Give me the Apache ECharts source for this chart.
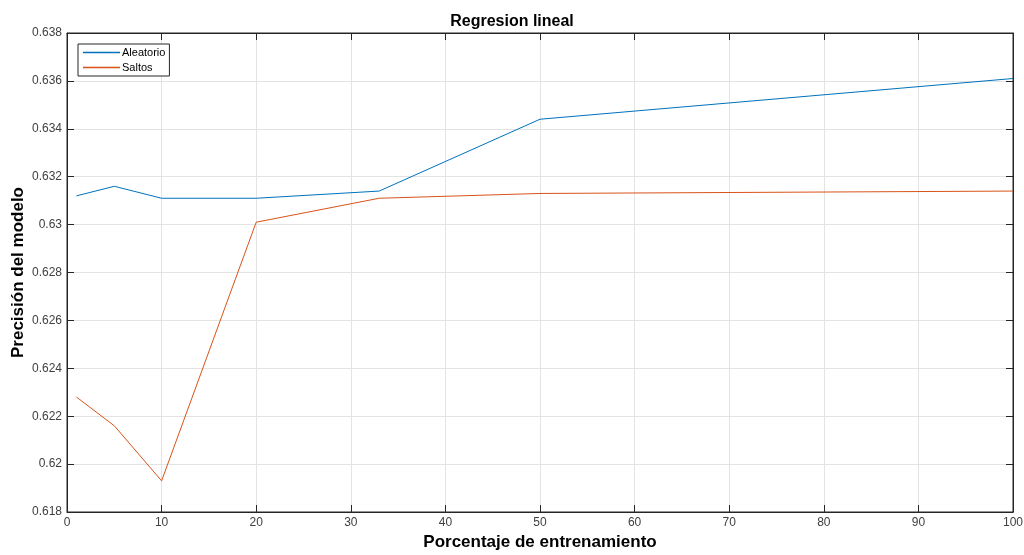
<!DOCTYPE html>
<html><head><meta charset="utf-8">
<script src="https://cdn.jsdelivr.net/npm/echarts@6/dist/echarts.min.js"></script>
<style>html,body{margin:0;padding:0;background:#fff}#c{width:1024px;height:555px}</style>
</head><body><div id="c"></div>
<script>
const xValues = [1, 5, 10, 20, 33, 50, 100];
const aleatorio = [0.6312, 0.6316, 0.6311, 0.6311, 0.6314, 0.6344, 0.6361];
const saltos = [0.6228, 0.6216, 0.6193, 0.6301, 0.6311, 0.6313, 0.6314];
const seriesNames = ['Aleatorio', 'Saltos'];

const font = 'Liberation Sans, Arial, sans-serif';
const axisCol = '#262626';
const chart = echarts.init(document.getElementById('c'));
const pair = (xs, ys) => xs.map((x, i) => [x, ys[i]]);
const commonX = {type: 'value', min: 0, max: 100, interval: 10};
const commonY = {type: 'value', min: 0.618, max: 0.638, interval: 0.002};
chart.setOption({
  animation: false,
  backgroundColor: '#fff',
  title: {text: 'Regresion lineal', left: 'center', top: 9,
    textStyle: {fontFamily: font, fontSize: 16, fontWeight: 'bold', color: '#000'}},
  grid: {left: 67, right: 11, top: 33, bottom: 43, outerBoundsMode: 'none', containLabel: false,
    show: true, borderColor: axisCol, borderWidth: 1, backgroundColor: '#fff'},
  legend: {orient: 'vertical', left: 78, top: 44, data: seriesNames,
    icon: 'rect', itemWidth: 37, itemHeight: 1.5, itemGap: 4,
    padding: [3, 4, 3, 5], borderColor: axisCol, borderWidth: 1, backgroundColor: '#fff',
    textStyle: {fontFamily: font, fontSize: 11, color: '#000', padding: [0, 0, 0, -3]}},
  xAxis: [
    Object.assign({}, commonX, {
      name: 'Porcentaje de entrenamiento', nameLocation: 'middle', nameGap: 22,
      nameTextStyle: {fontFamily: font, fontSize: 17, fontWeight: 'bold', color: '#000'},
      axisLine: {show: true, onZero: false, lineStyle: {color: axisCol}},
      axisTick: {show: true, inside: true, length: 7, lineStyle: {color: axisCol}},
      axisLabel: {fontFamily: font, fontSize: 12, color: '#404040', margin: 5},
      splitLine: {show: true, lineStyle: {color: '#e3e3e3'}}
    }),
    Object.assign({}, commonX, {
      position: 'top',
      axisLine: {show: true, onZero: false, lineStyle: {color: axisCol}},
      axisTick: {show: true, inside: true, length: 7, lineStyle: {color: axisCol}},
      axisLabel: {show: false}, splitLine: {show: false}
    })
  ],
  yAxis: [
    Object.assign({}, commonY, {
      name: 'Precisión del modelo', nameLocation: 'middle', nameGap: 40, nameMoveOverlap: false,
      nameTextStyle: {fontFamily: font, fontSize: 17, fontWeight: 'bold', color: '#000'},
      axisLine: {show: true, onZero: false, lineStyle: {color: axisCol}},
      axisTick: {show: true, inside: true, length: 7, lineStyle: {color: axisCol}},
      axisLabel: {fontFamily: font, fontSize: 12, color: '#404040', margin: 5,
        formatter: v => parseFloat(v.toFixed(3)).toString()},
      splitLine: {show: true, lineStyle: {color: '#e3e3e3'}}
    }),
    Object.assign({}, commonY, {
      position: 'right',
      axisLine: {show: true, onZero: false, lineStyle: {color: axisCol}},
      axisTick: {show: true, inside: true, length: 7, lineStyle: {color: axisCol}},
      axisLabel: {show: false}, splitLine: {show: false}
    })
  ],
  series: [
    {name: seriesNames[0], type: 'line', data: pair(xValues, aleatorio), showSymbol: false,
      color: '#0072BD', lineStyle: {width: 1, color: '#0072BD'}},
    {name: seriesNames[1], type: 'line', data: pair(xValues, saltos), showSymbol: false,
      color: '#D95319', lineStyle: {width: 1, color: '#D95319'}}
  ]
});
</script></body></html>
